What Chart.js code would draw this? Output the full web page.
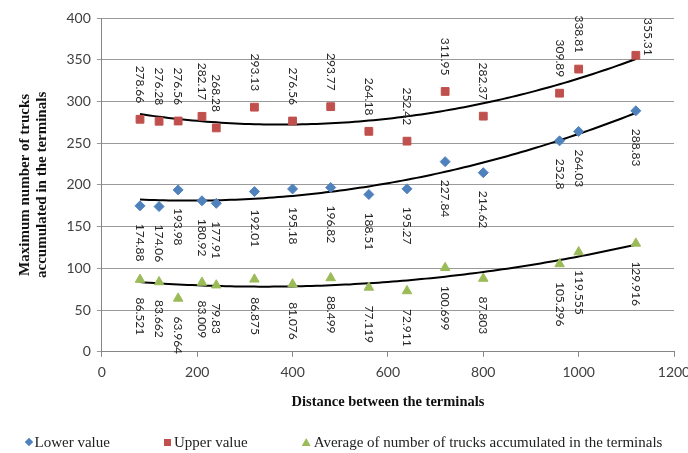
<!DOCTYPE html>
<html>
<head>
<meta charset="utf-8">
<script src="https://cdn.jsdelivr.net/npm/chart.js@4.4.0/dist/chart.umd.min.js"></script>
<style>
html, body { margin: 0; padding: 0; background: #fff; }
#wrap { position: relative; width: 688px; height: 453px; }
#legend {
    position: absolute; left: 0; top: 432px; width: 688px; height: 20px;
    display: flex; justify-content: center; align-items: center; gap: 54px;
    font-family: 'Liberation Serif', serif; font-size: 15px; color: #222;
}
#legend .item { display: flex; align-items: center; white-space: nowrap; }
#legend .mark { display: inline-block; width: 7px; height: 7px; margin-right: 3px; }
#legend .rectRot { transform: rotate(45deg); width: 6px; height: 6px; }
#legend .triangle { width: 9px; height: 8px; clip-path: polygon(50% 0, 100% 100%, 0 100%); }
</style>
</head>
<body>
<div id="wrap"><canvas id="chart"></canvas><div id="legend"></div></div>
<script>
// Distance between terminals (x) and the three series
const distances = [80, 120, 160, 210, 240, 320, 400, 480, 560, 640, 720, 800, 960, 1000, 1120];
const lowerValues = [174.88, 174.06, 193.98, 180.92, 177.91, 192.01, 195.18, 196.82, 188.51, 195.27, 227.84, 214.62, 252.8, 264.03, 288.83];
const upperValues = [278.66, 276.28, 276.56, 282.17, 268.28, 293.13, 276.56, 293.77, 264.18, 252.42, 311.95, 282.37, 309.89, 338.81, 355.31];
const averageValues = [86.521, 83.662, 63.964, 83.009, 79.83, 86.875, 81.076, 88.499, 77.119, 72.911, 100.699, 87.803, 105.296, 119.555, 129.916];
const xTicks = [0, 200, 400, 600, 800, 1000, 1200];
const yTicks = [0, 50, 100, 150, 200, 250, 300, 350, 400];

function toPoints(ys) {
    return distances.map((x, i) => ({ x: x, y: ys[i] }));
}

// least squares fit of order 2, like the Excel trendline
function quadFit(xs, ys) {
    let s = [0, 0, 0, 0, 0], t = [0, 0, 0];
    xs.forEach((x, i) => {
        for (let k = 0; k < 5; k++) s[k] += Math.pow(x, k);
        for (let k = 0; k < 3; k++) t[k] += ys[i] * Math.pow(x, k);
    });
    let m = [[s[0], s[1], s[2], t[0]], [s[1], s[2], s[3], t[1]], [s[2], s[3], s[4], t[2]]];
    for (let c = 0; c < 3; c++) {
        for (let r = c + 1; r < 3; r++) {
            let f = m[r][c] / m[c][c];
            for (let k = c; k < 4; k++) m[r][k] -= f * m[c][k];
        }
    }
    let a = [0, 0, 0];
    for (let r = 2; r >= 0; r--) {
        let v = m[r][3];
        for (let k = r + 1; k < 3; k++) v -= m[r][k] * a[k];
        a[r] = v / m[r][r];
    }
    return a;
}

function trendPoints(ys) {
    const a = quadFit(distances, ys);
    const pts = [];
    const x0 = distances[0], x1 = distances[distances.length - 1];
    for (let x = x0; x <= x1; x += 10) pts.push({ x: x, y: a[0] + a[1] * x + a[2] * x * x });
    return pts;
}

function trendSet(ys) {
    return {
        type: 'line',
        data: trendPoints(ys),
        borderColor: '#000',
        borderWidth: 2,
        pointRadius: 0,
        fill: false,
        tension: 0
    };
}

// rotated value labels next to each marker
const rotatedLabels = {
    id: 'rotatedLabels',
    afterDatasetsDraw(chart) {
        const ctx = chart.ctx, area = chart.chartArea;
        ctx.save();
        ctx.font = '12px Lato';
        ctx.fillStyle = '#262626';
        ctx.textBaseline = 'middle';
        ctx.textAlign = 'left';
        [0, 1, 2].forEach(di => {
            const above = di === 1;
            chart.getDatasetMeta(di).data.forEach((pt, i) => {
                const txt = String(chart.data.datasets[di].data[i].y);
                const w = ctx.measureText(txt).width;
                let x = pt.x, y;
                if (above) {
                    y = pt.y - 16 - w;
                    if (y < area.top - 5) { y = area.top; x += 12; }
                } else {
                    y = pt.y + 18;
                }
                ctx.save();
                ctx.translate(x, y);
                ctx.rotate(Math.PI / 2);
                ctx.fillText(txt, 0, 0);
                ctx.restore();
            });
        });
        ctx.restore();
    }
};

const ctx = document.getElementById('chart').getContext('2d');
const chart = new Chart(ctx, {
    type: 'scatter',
    data: {
        datasets: [{
            label: 'Lower value',
            data: toPoints(lowerValues),
            pointStyle: 'rectRot',
            pointRadius: 5,
            backgroundColor: '#4F81BD',
            borderColor: '#4F81BD'
        }, {
            label: 'Upper value',
            data: toPoints(upperValues),
            pointStyle: 'rect',
            pointRadius: 5.5,
            backgroundColor: '#C0504D',
            borderColor: '#C0504D'
        }, {
            label: 'Average of number of trucks accumulated in the terminals',
            data: toPoints(averageValues),
            pointStyle: 'triangle',
            pointRadius: 5.5,
            backgroundColor: '#9BBB59',
            borderColor: '#9BBB59'
        },
        trendSet(lowerValues),
        trendSet(upperValues),
        trendSet(averageValues)]
    },
    options: {
        responsive: true,
        maintainAspectRatio: false,
        animation: false,
        layout: { padding: { top: 18, right: 0, left: 16, bottom: 38 } },
        plugins: {
            tooltip: { enabled: false },
            legend: { display: false }
        },
        scales: {
            x: {
                type: 'linear',
                min: 0,
                max: 1200,
                afterBuildTicks: axis => { axis.ticks = xTicks.map(v => ({ value: v })); },
                afterFit: axis => { axis.paddingRight = 14; },
                ticks: { color: '#404040', font: { family: 'Lato', size: 14 }, padding: 7, callback: v => String(v) },
                grid: { drawOnChartArea: false, drawTicks: true, tickLength: 5, color: '#868686' },
                border: { color: '#868686' },
                title: {
                    display: true,
                    text: 'Distance between the terminals',
                    color: '#111',
                    font: { family: 'Liberation Serif', size: 14.5, weight: 'bold' },
                    padding: { top: 6, bottom: 4 }
                }
            },
            y: {
                min: 0,
                max: 400,
                afterBuildTicks: axis => { axis.ticks = yTicks.map(v => ({ value: v })); },
                ticks: { color: '#404040', font: { family: 'Lato', size: 14 }, padding: 6, callback: v => String(v) },
                grid: { color: '#9a9a9a', tickLength: 5 },
                border: { color: '#868686' },
                title: {
                    display: true,
                    text: ['Maximum number of trucks', 'accumulated in the terminals'],
                    color: '#111',
                    font: { family: 'Liberation Serif', size: 15, weight: 'bold', lineHeight: 1.15 },
                    padding: { top: 0, bottom: 10 }
                }
            }
        }
    },
    plugins: [rotatedLabels]
});

// legend as html, built from the three marker series
const legendBox = document.getElementById('legend');
chart.data.datasets.slice(0, 3).forEach(ds => {
    const item = document.createElement('span');
    item.className = 'item';
    const mark = document.createElement('span');
    mark.className = 'mark ' + ds.pointStyle;
    mark.style.background = ds.backgroundColor;
    item.appendChild(mark);
    item.appendChild(document.createTextNode(ds.label));
    legendBox.appendChild(item);
});
</script>
</body>
</html>
